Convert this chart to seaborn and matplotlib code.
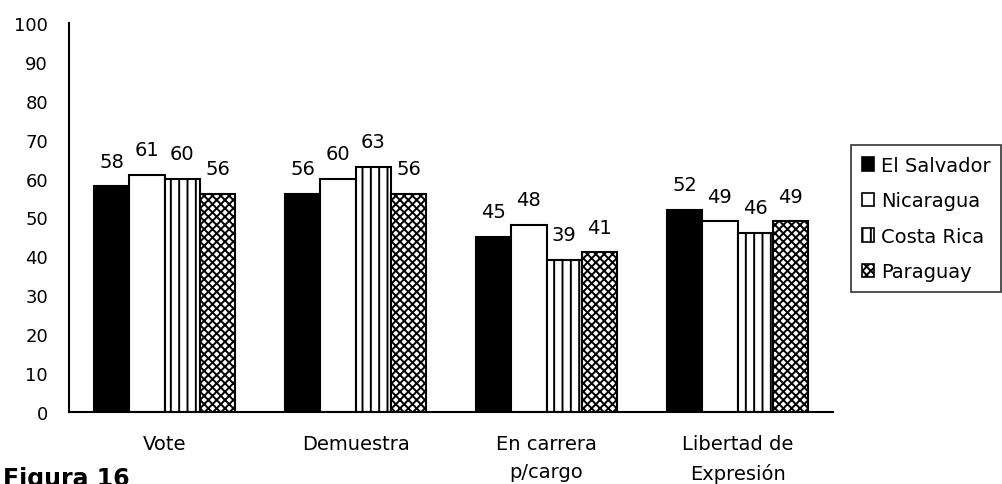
import matplotlib
matplotlib.use("Agg")
import matplotlib.pyplot as plt
from matplotlib.patches import Patch
import seaborn as sns
import pandas as pd

categories = ["Vote", "Demuestra", "En carrera\np/cargo", "Libertad de\nExpresión"]
countries = ["El Salvador", "Nicaragua", "Costa Rica", "Paraguay"]
el_salvador = [58, 56, 45, 52]
nicaragua = [61, 60, 48, 49]
costa_rica = [60, 63, 39, 46]
paraguay = [56, 56, 41, 49]
y_ticks = [0, 10, 20, 30, 40, 50, 60, 70, 80, 90, 100]

series = [el_salvador, nicaragua, costa_rica, paraguay]
rows = []
for country, vals in zip(countries, series):
    for cat, v in zip(categories, vals):
        rows.append({"cat": cat, "country": country, "value": v})
df = pd.DataFrame(rows)

sns.set_style("white")
plt.rcParams["font.family"] = ["DejaVu Sans"]
plt.rcParams["text.color"] = "black"
plt.rcParams["axes.labelcolor"] = "black"
plt.rcParams["xtick.color"] = "black"
plt.rcParams["ytick.color"] = "black"
plt.rcParams["hatch.linewidth"] = 1.4
plt.rcParams["hatch.color"] = "black"

faces = ["black", "white", "white", "white"]
hatches = [None, None, "||", "xxxx"]

fig = plt.figure(figsize=(10.02, 4.85), dpi=100)
ax = fig.add_axes([0.0689, 0.1485, 0.7625, 0.802])

sns.barplot(data=df, x="cat", y="value", hue="country", hue_order=countries,
            order=categories, palette=["black", "white", "white", "white"],
            width=0.74, errorbar=None, legend=False, ax=ax,
            edgecolor="black", linewidth=1.5)

for cont, fc, h, vals in zip(ax.containers, faces, hatches, series):
    for p in cont.patches:
        p.set_facecolor(fc)
        p.set_edgecolor("black")
        p.set_linewidth(1.5)
        if h:
            p.set_hatch(h)
            if hasattr(p, "set_hatch_linewidth"):
                p.set_hatch_linewidth(1.4)
    ax.bar_label(cont, labels=[str(v) for v in vals], padding=11.4, fontsize=14,
                 color="black")

ax.set_xlim(-0.5, len(categories) - 0.5)
ax.set_ylim(0, 100)
ax.set_yticks(y_ticks)
ax.set_yticklabels([str(t) for t in y_ticks], fontsize=13)
ax.set_xticks(range(len(categories)))
ax.set_xticklabels(categories, fontsize=14, linespacing=1.6)
ax.set_xticks([i - 0.5 for i in range(len(categories) + 1)], minor=True)
ax.tick_params(axis="x", which="major", length=0, pad=16, colors="black")
ax.tick_params(axis="x", which="minor", length=6.5, width=1.5, direction="out", colors="black")
ax.tick_params(axis="y", which="major", length=6.5, width=1.5, direction="out", pad=8.6, colors="black")
ax.set_xlabel("")
ax.set_ylabel("")
for s in ["top", "right"]:
    ax.spines[s].set_visible(False)
for s in ["left", "bottom"]:
    ax.spines[s].set_color("black")
    ax.spines[s].set_linewidth(1.5)

handles = []
for c, fc, h in zip(countries, faces, hatches):
    handles.append(Patch(facecolor=fc, edgecolor="black", hatch=h, linewidth=1.2, label=c))
leg = fig.legend(handles=handles, loc="upper left", bbox_to_anchor=(0.8493, 0.699),
                 bbox_transform=fig.transFigure, fontsize=14, frameon=True, fancybox=False,
                 shadow=False, borderaxespad=0, borderpad=0.55, labelspacing=0.85,
                 handlelength=0.65, handleheight=0.7, handletextpad=0.35)
leg.get_frame().set_edgecolor("black")
leg.get_frame().set_linewidth(1.2)
for t in leg.get_texts():
    t.set_color("black")

fig.text(0.003, 0.037, "Figura 16", fontsize=17, fontweight="bold", va="top", ha="left",
         color="black")

fig.savefig("out.png", dpi=100)
